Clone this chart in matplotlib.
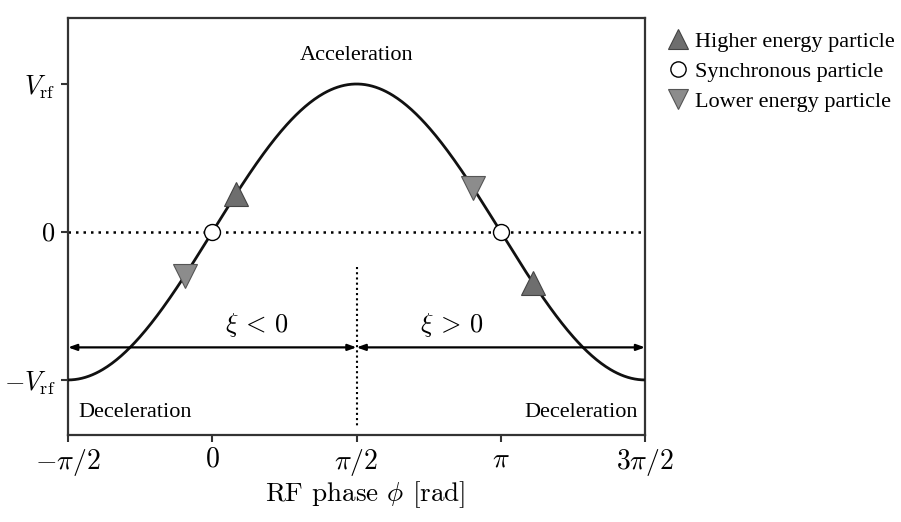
import numpy as np
import matplotlib.pyplot as plt
from matplotlib.lines import Line2D

plt.rcParams['font.family'] = ['Liberation Serif', 'DejaVu Serif']
plt.rcParams['mathtext.fontset'] = 'cm'
plt.rcParams['axes.formatter.use_mathtext'] = True

# particle phases [rad]
sync_phase = [0.0, np.pi]
high_phase = [0.26, np.pi + 0.35]
low_phase = [-0.30, np.pi - 0.30]

xticks = [-np.pi / 2, 0, np.pi / 2, np.pi, 3 * np.pi / 2]
xticklabels = [r'$-\pi/2$', r'$0$', r'$\pi/2$', r'$\pi$', r'$3\pi/2$']
yticks = [-1, 0, 1]
yticklabels = [r'$-V_{\rm rf}$', r'$0$', r'$V_{\rm rf}$']

arrow_y = -0.78
c_high = '#6e6e6e'
c_low = '#8c8c8c'

fig = plt.figure(figsize=(9.01, 5.22), dpi=100)
ax = fig.add_axes([0.0755, 0.1667, 0.6405, 0.7988])

phi = np.linspace(-np.pi / 2, 3 * np.pi / 2, 500)
ax.plot(phi, np.sin(phi), color='#111111', lw=2.0, zorder=3)
ax.axhline(0, color='black', lw=1.8, ls=(0, (1, 2)), zorder=2)
ax.plot([np.pi / 2, np.pi / 2], [-0.24, -1.32], color='black', lw=1.5,
        ls=(0, (1, 1.5)), zorder=2)

ax.plot(high_phase, np.sin(high_phase), '^', ms=17, color=c_high, mec='#444444',
        mew=0.8, ls='none', zorder=5)
ax.plot(low_phase, np.sin(low_phase), 'v', ms=17, color=c_low, mec='#555555',
        mew=0.8, ls='none', zorder=5)
ax.plot(sync_phase, np.sin(sync_phase), 'o', ms=11.5, mfc='white', mec='black',
        mew=1.0, ls='none', zorder=5)

arrow_kw = dict(arrowstyle='<|-|>,head_length=0.5,head_width=0.18', color='black',
                lw=1.6, shrinkA=0, shrinkB=0)
ax.annotate('', xy=(-np.pi / 2, arrow_y), xytext=(np.pi / 2, arrow_y), arrowprops=arrow_kw)
ax.annotate('', xy=(np.pi / 2, arrow_y), xytext=(3 * np.pi / 2, arrow_y), arrowprops=arrow_kw)

ax.text(np.pi / 2, 1.19, 'Acceleration', ha='center', va='center', fontsize=16)
ax.text(0.48, -0.63, r'$\xi\,<\,0$', ha='center', va='center', fontsize=19)
ax.text(2.6, -0.63, r'$\xi\,>\,0$', ha='center', va='center', fontsize=19)
ax.text(-1.46, -1.22, 'Deceleration', ha='left', va='center', fontsize=16)
ax.text(4.63, -1.22, 'Deceleration', ha='right', va='center', fontsize=16)

ax.set_xlim(-np.pi / 2, 3 * np.pi / 2)
ax.set_ylim(-1.372, 1.446)
ax.set_xticks(xticks)
ax.set_xticklabels(xticklabels, fontsize=20)
ax.set_yticks(yticks)
ax.set_yticklabels(yticklabels, fontsize=19)
ax.set_xlabel(r'RF phase $\phi$ [rad]', fontsize=19.5, labelpad=1, family='cmr10')
ax.xaxis.set_label_coords(0.515, -0.105)
ax.tick_params(length=5, width=1.5, color='#333333', pad=4)
for s in ax.spines.values():
    s.set_linewidth(1.6)
    s.set_color('#333333')

handles = [
    Line2D([], [], marker='^', ls='none', ms=14, color=c_high, mec='#444444', mew=0.8),
    Line2D([], [], marker='o', ls='none', ms=11, mfc='white', mec='black', mew=1.0),
    Line2D([], [], marker='v', ls='none', ms=14, color=c_low, mec='#555555', mew=0.8),
]
labels = ['Higher energy particle', 'Synchronous particle', 'Lower energy particle']
fig.legend(handles, labels, loc='upper left', bbox_to_anchor=(0.737, 0.94),
           frameon=False, fontsize=16, handletextpad=0.1, labelspacing=0.42,
           handlelength=1.3, borderaxespad=0, borderpad=0)

fig.savefig('out.png', dpi=100)
